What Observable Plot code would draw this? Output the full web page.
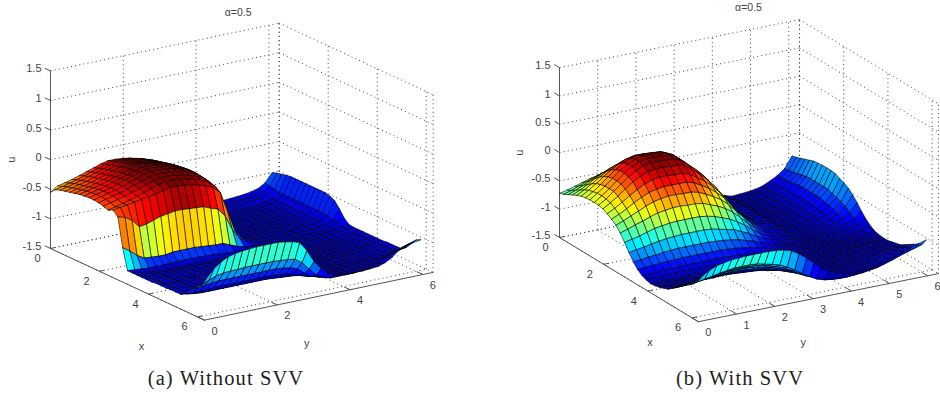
<!DOCTYPE html>
<html><head><meta charset="utf-8">
<script src="https://cdn.jsdelivr.net/npm/d3@7"></script>
<script src="https://cdn.jsdelivr.net/npm/@observablehq/plot@0.6"></script>
<style>
html,body{margin:0;background:#fff;}
#cap{position:relative;height:40px;width:940px;font-family:"Liberation Serif",serif;font-size:20.5px;letter-spacing:1.1px;color:#222;}
#cap span{position:absolute;top:7px;transform:translateX(-50%);white-space:nowrap;}
</style></head><body>
<div id="fig"></div>
<div id="cap"><span style="left:226px">(a) Without SVV</span><span style="left:740px">(b) With SVV</span></div>
<script>
// Surface heights, in hundredths of u. Rows: x index, columns: y index.
const uA = [
[-55,-47,-44,-41,-37,-33,-29,-25,-22,-22,-23,-25,-28,-32,-38,-48,-80,-112,-125,-131,-133,-133,-132,-131,-130,-129,-128,-127,-125,-122,-115,-100],
[-47,-44,-41,-38,-34,-30,-26,-22,-19,-19,-20,-22,-25,-29,-35,-45,-78,-112,-126,-132,-134,-134,-133,-132,-131,-131,-130,-129,-127,-124,-117,-97],
[-44,-41,-38,-35,-31,-27,-23,-19,-16,-16,-17,-19,-22,-26,-32,-42,-76,-112,-127,-133,-135,-135,-134,-133,-133,-132,-131,-130,-128,-125,-118,-95],
[-42,-39,-36,-33,-29,-25,-21,-17,-14,-14,-15,-17,-20,-24,-30,-40,-74,-112,-128,-134,-136,-136,-136,-136,-135,-135,-134,-133,-131,-128,-120,-93],
[-40,-37,-34,-31,-27,-23,-19,-15,-12,-12,-13,-15,-18,-22,-28,-38,-72,-112,-128,-134,-136,-136,-136,-136,-135,-135,-134,-133,-131,-128,-120,-92],
[-38,-35,-32,-29,-25,-21,-17,-13,-10,-10,-11,-13,-16,-20,-26,-36,-70,-112,-128,-134,-136,-136,-136,-136,-135,-135,-134,-133,-131,-128,-120,-92],
[-36,-33,-30,-27,-23,-19,-15,-11,-8,-8,-9,-11,-14,-18,-24,-34,-68,-112,-128,-134,-136,-136,-136,-136,-135,-135,-134,-133,-131,-128,-120,-92],
[-35,-32,-29,-26,-22,-18,-14,-10,-7,-7,-8,-10,-13,-17,-23,-33,-67,-112,-128,-134,-136,-136,-136,-136,-135,-135,-134,-133,-131,-128,-120,-92],
[-34,-31,-28,-25,-21,-17,-13,-9,-6,-6,-7,-9,-12,-16,-22,-32,-66,-112,-128,-134,-136,-136,-136,-136,-135,-135,-134,-133,-131,-128,-120,-92],
[-34,-31,-28,-25,-21,-17,-13,-9,-6,-6,-7,-9,-12,-16,-22,-32,-66,-112,-128,-134,-136,-136,-136,-136,-135,-135,-134,-133,-131,-128,-120,-92],
[-35,-32,-29,-26,-22,-18,-14,-10,-7,-7,-8,-10,-13,-17,-23,-33,-67,-112,-128,-134,-136,-136,-136,-136,-135,-135,-134,-133,-131,-128,-120,-92],
[-37,-34,-31,-28,-24,-20,-16,-12,-9,-9,-10,-12,-15,-19,-25,-35,-69,-112,-128,-134,-136,-136,-136,-136,-135,-135,-134,-133,-131,-128,-120,-92],
[-40,-37,-34,-31,-27,-23,-19,-15,-12,-12,-13,-15,-18,-22,-28,-38,-72,-112,-128,-134,-136,-136,-136,-136,-135,-135,-134,-133,-131,-128,-120,-94],
[-36,-34,-32,-30,-28,-26,-24,-21,-18,-18,-19,-21,-24,-28,-34,-44,-78,-113,-128,-134,-136,-136,-136,-136,-135,-135,-134,-133,-131,-128,-121,-98],
[-44,-47,-55,-68,-66,-62,-58,-56,-54,-54,-55,-56,-57,-62,-66,-80,-105,-122,-130,-135,-136,-137,-136,-136,-135,-135,-134,-133,-132,-130,-124,-108],
[-92,-100,-110,-117,-118,-119,-119,-117,-117,-117,-117,-118,-119,-120,-120,-125,-130,-133,-135,-136,-137,-137,-137,-137,-136,-136,-135,-134,-133,-131,-125,-120],
[-127,-128,-129,-130,-130,-130,-130,-129,-129,-129,-129,-130,-130,-131,-132,-133,-134,-135,-136,-137,-137,-137,-137,-137,-136,-136,-135,-134,-133,-132,-128,-127],
[-127,-129,-131,-132,-133,-133,-133,-133,-133,-133,-133,-133,-133,-134,-135,-135,-136,-137,-137,-138,-138,-138,-138,-137,-137,-136,-135,-134,-133,-131,-129,-128],
[-127,-129,-130,-131,-132,-132,-132,-132,-132,-132,-132,-132,-133,-134,-135,-136,-137,-137,-138,-138,-138,-138,-138,-138,-137,-137,-136,-135,-134,-132,-130,-128],
[-127,-128,-130,-131,-131,-131,-131,-131,-132,-132,-132,-132,-133,-134,-135,-136,-137,-138,-138,-139,-139,-139,-139,-138,-138,-137,-136,-135,-134,-132,-130,-128],
[-127,-128,-129,-130,-131,-131,-131,-131,-131,-131,-132,-132,-133,-134,-135,-136,-137,-138,-138,-139,-139,-139,-139,-138,-138,-137,-136,-135,-134,-132,-130,-128],
[-127,-128,-129,-130,-130,-131,-131,-131,-131,-131,-131,-132,-133,-134,-135,-136,-137,-138,-138,-139,-139,-139,-139,-138,-138,-137,-136,-135,-134,-132,-130,-128],
[-126,-128,-129,-130,-130,-130,-130,-130,-130,-131,-131,-132,-133,-134,-135,-136,-137,-138,-138,-139,-139,-139,-139,-138,-138,-137,-136,-135,-134,-132,-130,-128],
[-126,-127,-128,-129,-129,-129,-130,-130,-130,-130,-131,-131,-132,-133,-134,-136,-137,-138,-138,-138,-139,-138,-138,-138,-137,-137,-136,-135,-133,-131,-129,-128],
[-126,-127,-128,-128,-129,-129,-129,-129,-129,-129,-130,-130,-131,-132,-134,-135,-136,-137,-138,-138,-138,-138,-138,-137,-137,-136,-135,-134,-133,-131,-129,-127],
[-125,-126,-127,-128,-128,-128,-128,-128,-128,-128,-129,-129,-130,-131,-133,-134,-136,-137,-137,-138,-138,-138,-138,-137,-137,-136,-135,-134,-132,-130,-128,-127],
[-125,-126,-127,-127,-127,-128,-128,-128,-128,-128,-128,-129,-130,-131,-132,-134,-135,-136,-137,-137,-138,-138,-137,-137,-136,-136,-135,-134,-132,-130,-128,-127],
[-125,-127,-129,-130,-130,-130,-130,-130,-130,-130,-130,-130,-130,-131,-132,-133,-134,-135,-136,-137,-137,-137,-137,-136,-136,-135,-134,-133,-131,-128,-127,-126],
[-120,-122,-122,-121,-120,-120,-120,-120,-120,-120,-120,-120,-120,-121,-122,-125,-130,-134,-136,-136,-136,-136,-136,-135,-135,-134,-133,-130,-128,-124,-122,-120],
[-110,-110,-108,-106,-105,-105,-105,-105,-105,-105,-105,-105,-105,-106,-108,-112,-122,-130,-134,-135,-135,-135,-135,-134,-134,-132,-130,-125,-122,-117,-113,-110],
[-103,-100,-95,-90,-88,-87,-87,-86,-86,-86,-86,-86,-87,-88,-90,-98,-112,-124,-131,-134,-134,-134,-134,-133,-132,-130,-127,-120,-114,-108,-104,-100],
[-98,-85,-72,-63,-57,-54,-52,-51,-50,-50,-50,-50,-52,-54,-58,-74,-95,-109,-120,-125,-127,-128,-128,-128,-127,-126,-122,-115,-105,-100,-98,-96]
];
const uB = [
[-72,-69,-65,-61,-57,-54,-52,-51,-51,-51,-51,-53,-57,-62,-68,-77,-89,-102,-114,-123,-129,-132,-134,-138,-137,-136,-134,-131,-125,-118,-108,-88],
[-69,-65,-60,-55,-50,-46,-44,-42,-42,-43,-43,-45,-50,-56,-63,-73,-86,-100,-113,-122,-129,-132,-134,-138,-137,-136,-134,-130,-125,-117,-107,-86],
[-65,-60,-54,-48,-42,-37,-34,-32,-32,-32,-32,-36,-42,-49,-57,-68,-83,-98,-111,-121,-128,-131,-133,-138,-137,-135,-133,-130,-124,-116,-105,-83],
[-61,-55,-48,-40,-33,-27,-23,-21,-21,-22,-22,-26,-33,-41,-51,-64,-79,-95,-110,-120,-127,-131,-133,-138,-137,-135,-133,-129,-123,-115,-103,-80],
[-57,-50,-42,-33,-25,-18,-13,-10,-10,-11,-12,-16,-25,-34,-45,-59,-75,-93,-108,-119,-127,-130,-133,-138,-137,-135,-132,-129,-122,-114,-101,-77],
[-54,-46,-37,-27,-18,-10,-4,-1,-1,-2,-3,-8,-18,-28,-40,-55,-73,-91,-107,-119,-126,-130,-132,-138,-137,-135,-132,-128,-122,-112,-99,-74],
[-52,-44,-34,-23,-13,-4,2,5,5,4,3,-3,-13,-25,-37,-53,-71,-90,-106,-118,-126,-130,-132,-138,-137,-135,-132,-128,-121,-111,-98,-73],
[-51,-42,-32,-21,-10,-1,5,8,8,7,6,0,-11,-23,-35,-51,-70,-89,-106,-118,-126,-130,-132,-138,-137,-135,-132,-128,-121,-111,-98,-72],
[-51,-42,-32,-21,-10,-1,5,8,8,7,6,0,-11,-23,-35,-51,-70,-89,-106,-118,-126,-130,-132,-138,-137,-135,-132,-128,-121,-111,-98,-72],
[-51,-43,-32,-22,-12,-4,3,5,5,5,4,-1,-12,-23,-36,-52,-70,-89,-106,-118,-126,-130,-132,-138,-137,-135,-132,-128,-121,-111,-98,-72],
[-53,-45,-36,-26,-16,-9,-4,-1,-1,-2,-2,-7,-16,-27,-39,-54,-72,-90,-107,-118,-126,-130,-132,-138,-137,-135,-132,-128,-121,-111,-98,-73],
[-57,-50,-42,-33,-25,-18,-13,-11,-11,-12,-12,-16,-25,-34,-45,-59,-75,-93,-108,-119,-127,-130,-133,-138,-137,-135,-132,-129,-122,-114,-101,-77],
[-62,-56,-49,-41,-34,-28,-25,-23,-23,-23,-23,-27,-34,-42,-52,-64,-80,-96,-110,-120,-127,-131,-133,-138,-137,-135,-133,-129,-123,-115,-103,-80],
[-68,-63,-57,-51,-45,-40,-37,-35,-35,-36,-36,-39,-45,-52,-60,-71,-85,-99,-112,-122,-128,-132,-134,-138,-137,-136,-133,-130,-125,-117,-106,-85],
[-77,-73,-68,-64,-59,-55,-53,-51,-51,-52,-52,-54,-59,-64,-71,-80,-92,-105,-116,-124,-130,-133,-134,-139,-138,-136,-134,-131,-127,-120,-110,-92],
[-89,-86,-83,-79,-75,-73,-71,-70,-70,-70,-70,-72,-75,-80,-85,-92,-101,-111,-120,-127,-132,-134,-136,-139,-138,-137,-135,-133,-129,-124,-116,-101],
[-102,-100,-98,-95,-93,-91,-90,-89,-89,-89,-89,-90,-93,-96,-99,-105,-111,-119,-125,-130,-134,-136,-137,-139,-139,-138,-137,-135,-132,-128,-122,-111],
[-114,-113,-111,-110,-108,-107,-106,-106,-106,-106,-106,-107,-108,-110,-112,-116,-120,-125,-130,-134,-136,-137,-138,-139,-139,-138,-138,-136,-134,-132,-128,-120],
[-123,-122,-121,-120,-119,-119,-118,-118,-118,-118,-118,-118,-119,-120,-122,-124,-127,-130,-134,-136,-137,-138,-138,-139,-139,-139,-138,-138,-136,-135,-132,-127],
[-129,-129,-128,-127,-127,-126,-126,-126,-126,-126,-126,-126,-127,-127,-128,-130,-132,-134,-136,-137,-138,-139,-139,-139,-139,-139,-139,-139,-138,-137,-135,-132],
[-132,-132,-131,-131,-130,-130,-130,-130,-130,-130,-130,-130,-130,-131,-132,-133,-134,-136,-137,-138,-139,-139,-139,-139,-139,-139,-139,-139,-139,-138,-137,-134],
[-134,-134,-133,-133,-133,-132,-132,-132,-132,-132,-132,-132,-133,-133,-134,-134,-136,-137,-138,-138,-139,-139,-139,-139,-139,-139,-139,-139,-139,-138,-137,-135],
[-133,-133,-132,-132,-131,-131,-131,-131,-131,-131,-131,-132,-133,-134,-135,-136,-137,-138,-139,-139,-139,-139,-139,-139,-139,-138,-138,-137,-136,-136,-135,-135],
[-131,-131,-130,-130,-129,-129,-128,-128,-128,-128,-129,-130,-130,-132,-133,-135,-137,-138,-139,-139,-139,-139,-139,-139,-138,-138,-137,-136,-136,-135,-134,-133],
[-128,-127,-127,-126,-125,-125,-124,-124,-124,-125,-125,-126,-127,-129,-131,-133,-135,-137,-138,-139,-139,-139,-139,-138,-138,-137,-136,-135,-134,-133,-132,-131],
[-125,-124,-123,-123,-122,-121,-121,-120,-120,-121,-122,-123,-124,-126,-129,-132,-134,-136,-138,-138,-139,-139,-138,-138,-137,-137,-135,-134,-133,-131,-130,-129],
[-119,-118,-117,-116,-114,-113,-113,-113,-113,-113,-114,-116,-118,-121,-124,-128,-132,-135,-137,-138,-138,-138,-138,-137,-136,-135,-134,-132,-129,-128,-126,-124],
[-113,-112,-110,-109,-107,-106,-105,-105,-105,-105,-107,-109,-111,-115,-120,-125,-130,-133,-136,-137,-138,-138,-137,-136,-135,-134,-132,-129,-127,-124,-122,-119],
[-106,-104,-103,-101,-99,-97,-96,-96,-96,-96,-99,-101,-104,-109,-114,-121,-127,-132,-134,-136,-137,-137,-136,-135,-134,-132,-129,-126,-123,-120,-117,-114],
[-100,-98,-96,-94,-91,-89,-88,-88,-88,-89,-91,-94,-98,-103,-110,-118,-125,-130,-134,-135,-136,-136,-136,-135,-133,-131,-128,-124,-120,-116,-113,-109],
[-94,-92,-89,-87,-84,-82,-80,-80,-80,-81,-84,-87,-91,-97,-105,-114,-122,-129,-133,-135,-136,-136,-135,-134,-132,-130,-126,-122,-117,-113,-109,-105],
[-88,-78,-70,-64,-61,-59,-58,-57,-57,-57,-57,-58,-60,-64,-72,-82,-93,-105,-113,-118,-122,-124,-125,-124,-121,-117,-113,-109,-105,-100,-96,-92]
];
const zTicks = [-1.5,-1,-0.5,0,0.5,1,1.5];
const xTicks = [0,2,4,6];
const yTicksA = [0,2,4,6];
const yTicksB = [0,1,2,3,4,5,6];
const jetDomain = [0,0.125,0.375,0.625,0.875,1];
const jetRange = ["#000090","#0000ff","#00ffff","#ffff00","#ff0000","#800000"];

const LIM = 2*Math.PI, STEP = Math.PI/16, ZMIN = -1.5, ZMAX = 1.5;
const viewA = {ox:50, oy:248, xx:24.5, xy:11.4, yx:36.4, yy:-7.6, zk:59.2, clim:[-1.4,-0.12]};
const viewB = {ox:559, oy:237, xx:22.1, xy:13.4, yx:38.2, yy:-7.65, zk:56.6, clim:[-1.4,0.08]};
const px = (v,x,y) => v.ox + v.xx*x + v.yx*y;
const py = (v,x,y,z) => v.oy + v.xy*x + v.yy*y - v.zk*(z-ZMIN);

function quads(v, tbl, tag){
  const out = [];
  const n = tbl.length;
  for (let i=0;i<n-1;i++) for (let j=n-2;j>=0;j--){
    const id = tag+"-"+i+"-"+j, c = (tbl[i][j]/100 - v.clim[0])/(v.clim[1]-v.clim[0]);
    for (const [a,b] of [[i,j],[i+1,j],[i+1,j+1],[i,j+1],[i,j]]){
      out.push({q:id,c,sx:px(v,a*STEP,b*STEP),sy:py(v,a*STEP,b*STEP,tbl[a][b]/100)});
    }
  }
  return out;
}
function seg(v,list){
  const out=[];
  list.forEach((s,k)=>s.forEach(p=>out.push({k,sx:px(v,p[0],p[1]),sy:py(v,p[0],p[1],p[2])})));
  return out;
}
function gridSegs(xt,yt){
  const s=[];
  for(const x of xt){ s.push([[x,0,ZMIN],[x,LIM,ZMIN]]); s.push([[x,LIM,ZMIN],[x,LIM,ZMAX]]); }
  for(const y of yt){ s.push([[0,y,ZMIN],[LIM,y,ZMIN]]); s.push([[0,y,ZMIN],[0,y,ZMAX]]); }
  for(const z of zTicks){ s.push([[0,0,z],[0,LIM,z]]); s.push([[0,LIM,z],[LIM,LIM,z]]); }
  s.push([[0,LIM,ZMIN],[0,LIM,ZMAX]]);
  s.push([[LIM,LIM,ZMIN],[LIM,LIM,ZMAX]]);
  return s;
}
function axisSegs(xt,yt){
  const s=[[[0,0,ZMIN],[0,0,ZMAX]],[[0,0,ZMIN],[LIM,0,ZMIN]],[[LIM,0,ZMIN],[LIM,LIM,ZMIN]]];
  for(const z of zTicks) s.push([[0,0,z],[-0.22,0,z]]);
  for(const x of xt) s.push([[x,0,ZMIN],[x,0.12,ZMIN]]);
  for(const y of yt) s.push([[LIM,y,ZMIN],[LIM-0.22,y,ZMIN]]);
  return s;
}
const FONT = "Liberation Sans, Arial, sans-serif";
function panel(v,tbl,tag,xt,yt,lab){
  const txt = (data,opt)=>Plot.text(data,{fontFamily:FONT,fontSize:11,fill:"#444",...opt});
  return [
    Plot.line(seg(v,gridSegs(xt,yt)),{x:"sx",y:"sy",z:"k",stroke:"#333",strokeWidth:0.9,strokeDasharray:"1,3.2",strokeLinecap:"butt",curve:"linear"}),
    Plot.line(seg(v,axisSegs(xt,yt)),{x:"sx",y:"sy",z:"k",stroke:"#555",strokeWidth:1,curve:"linear"}),
    Plot.line(quads(v,tbl,tag),{x:"sx",y:"sy",z:"q",fill:"c",stroke:"#000",strokeWidth:0.6,strokeOpacity:0.95,strokeLinejoin:"round",curve:"linear"}),
    txt(zTicks,{x:()=>v.ox,y:z=>py(v,0,0,z),text:z=>String(z),textAnchor:"end",dx:-9,dy:-2}),
    txt(xt,{x:t=>px(v,t,0),y:t=>py(v,t,0,ZMIN),text:t=>String(t),dx:lab.xdx,dy:lab.xdy}),
    txt(yt,{x:t=>px(v,LIM,t),y:t=>py(v,LIM,t,ZMIN),text:t=>String(t),dx:10,dy:11}),
    txt(["u"],{x:()=>v.ox,y:()=>py(v,0,0,0),text:d=>d,rotate:-90,dx:lab.ux}),
    txt(["x"],{x:()=>px(v,Math.PI,0),y:()=>py(v,Math.PI,0,ZMIN),text:d=>d,dx:lab.xnx,dy:lab.xny}),
    txt(["y"],{x:()=>px(v,LIM,Math.PI),y:()=>py(v,LIM,Math.PI,ZMIN),text:d=>d,dx:lab.ynx,dy:lab.yny}),
    txt(["α=0.5"],{x:()=>px(v,0,LIM),y:()=>py(v,0,LIM,ZMAX),text:d=>d,fontSize:10.5,dx:lab.tx,dy:lab.ty})
  ];
}
const chart = Plot.plot({
  width:940,height:360,margin:0,style:{background:"#fff"},
  x:{domain:[0,940],range:[0,940],axis:null},
  y:{domain:[0,360],range:[0,360],axis:null},
  color:{type:"linear",domain:jetDomain,range:jetRange,clamp:true},
  marks:[
    ...panel(viewA,uA,"a",xTicks,yTicksA,{xdx:-13,xdy:10,ux:-39,xnx:14,xny:62,ynx:-12,yny:47,tx:-41,ty:-11}),
    ...panel(viewB,uB,"b",xTicks,yTicksB,{xdx:-14,xdy:10,ux:-40,xnx:21,xny:63,ynx:-15,yny:45,tx:-51,ty:-12})
  ]
});
document.getElementById("fig").appendChild(chart);
</script></body></html>
